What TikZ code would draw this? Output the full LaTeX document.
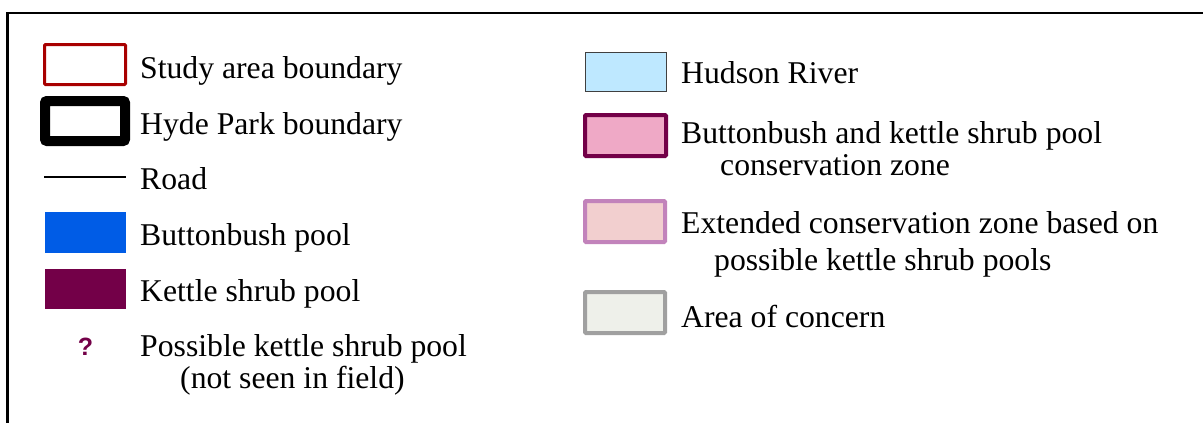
\documentclass[tikz,border=0pt]{standalone}
\usepackage{fontspec}
\setmainfont{Liberation Serif}
\newfontfamily\qfont{Liberation Sans}
\definecolor{studyred}{HTML}{A80000}
\definecolor{bbblue}{HTML}{005CE6}
\definecolor{kettle}{HTML}{730048}
\definecolor{river}{HTML}{BEE8FF}
\definecolor{riveredge}{HTML}{404040}
\definecolor{zonefill}{HTML}{EFA9C6}
\definecolor{extedge}{HTML}{C283BB}
\definecolor{extfill}{HTML}{F2CFCF}
\definecolor{concernedge}{HTML}{A0A0A0}
\definecolor{concernfill}{HTML}{EEF0EA}
\tikzset{
  swatch/.style={rectangle, inner sep=0pt, minimum width=81pt, minimum height=40pt},
  lbl/.style={anchor=base west, inner sep=0pt, font=\fontsize{31.7}{36}\selectfont},
}
\begin{document}
\begin{tikzpicture}[x=1pt,y=-1pt]
\useasboundingbox (0,0) rectangle (1203,423);
\fill[white] (0,0) rectangle (1203,423);
% frame
\coordinate (fbl) at (7.5,424);
\coordinate (ftl) at (7.5,13);
\coordinate (ftr) at (1204,13);
\draw[line width=2.5pt] (fbl) -- (ftl) -- (ftr);
% left column swatches
\node[swatch, draw=studyred, line width=3pt, rounded corners=1pt] (study) at (85,64.5) {};
\node[swatch, draw=black, line width=10pt, rounded corners=2pt, minimum width=80pt] (hyde) at (85,121) {};
\coordinate (roadA) at (44,177);
\coordinate (roadB) at (126,177);
\draw[line width=2pt] (roadA) -- (roadB);
\node[swatch, fill=bbblue, minimum height=41pt] (bbpool) at (85.5,232.5) {};
\node[swatch, fill=kettle] (kspool) at (85.5,289) {};
\node[anchor=base, inner sep=0pt, text=kettle, font=\qfont\bfseries\fontsize{25}{28}\selectfont] (qmark) at (85.5,355) {?};
% left column labels
\node[lbl] (tstudy) at (140,78) {Study area boundary};
\node[lbl] (thyde) at (140,134) {Hyde Park boundary};
\node[lbl] (troad) at (140,189) {Road};
\node[lbl] (tbb) at (140,245) {Buttonbush pool};
\node[lbl] (tks) at (140,301) {Kettle shrub pool};
\node[lbl] (tposs) at (140,356) {Possible kettle shrub pool};
\node[lbl] (tposs2) at (180,388) {(not seen in field)};
% right column swatches
\node[swatch, fill=river, draw=riveredge, line width=1pt, minimum height=39pt] (river) at (625.5,71.5) {};
\node[swatch, fill=zonefill, draw=kettle, line width=4pt, rounded corners=1pt, minimum height=41pt] (zone) at (625.5,135.5) {};
\node[swatch, fill=extfill, draw=extedge, line width=4pt, rounded corners=1pt, minimum width=80pt, minimum height=41pt] (ext) at (625,221.5) {};
\node[swatch, fill=concernfill, draw=concernedge, line width=4pt, rounded corners=1pt, minimum width=80pt, minimum height=41pt] (concern) at (625,312.5) {};
% right column labels
\node[lbl] (triver) at (681,83) {Hudson River};
\node[lbl] (tzone) at (681,143) {Buttonbush and kettle shrub pool};
\node[lbl] (tzone2) at (720,175) {conservation zone};
\node[lbl] (text) at (681,233) {Extended conservation zone based on};
\node[lbl] (text2) at (714,270) {possible kettle shrub pools};
\node[lbl] (tconcern) at (681,327) {Area of concern};
\end{tikzpicture}
\end{document}
